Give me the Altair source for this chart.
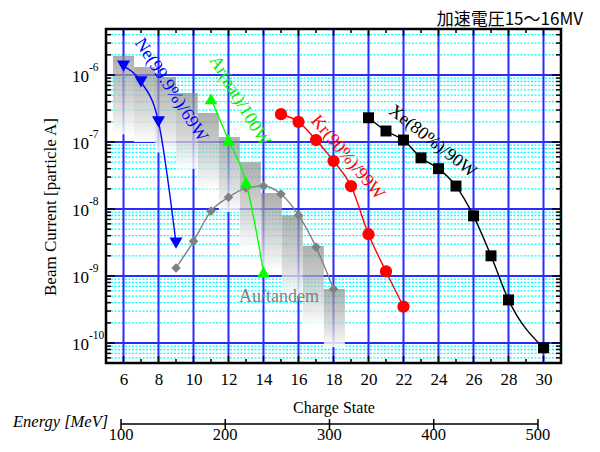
import altair as alt
import pandas as pd

# ---------------- data ----------------
ne_q = [6, 7, 8, 9]
ne_i = [1.36e-6, 7.9e-7, 2.0e-7, 3.1e-9]

ar_q = [11, 12, 13, 14]
ar_i = [4.4e-7, 1.07e-7, 2.5e-8, 1.15e-9]

kr_q = [15, 16, 17, 18, 19, 20, 21, 22]
kr_i = [2.6e-7, 2.0e-7, 1.07e-7, 5.2e-8, 2.2e-8, 4.2e-9, 1.17e-9, 3.5e-10]

xe_q = [20, 21, 22, 23, 24, 25, 26, 27, 28, 30]
xe_i = [2.3e-7, 1.46e-7, 1.07e-7, 5.8e-8, 4.0e-8, 2.2e-8, 7.9e-9, 2.0e-9, 4.4e-10, 8.5e-11]

au_q = [9, 10, 11, 12, 13, 14, 15, 16, 17, 18]
au_i = [1.32e-9, 3.3e-9, 9.3e-9, 1.5e-8, 2.05e-8, 2.2e-8, 1.67e-8, 8.1e-9, 2.7e-9, 6.4e-10]

bar_left = [5.4, 6.6, 7.8, 9.0, 10.25, 11.45, 12.65, 13.85, 15.05, 16.25, 17.45]
bar_right = [6.6, 7.8, 9.0, 10.25, 11.45, 12.65, 13.85, 15.05, 16.25, 17.45, 18.65]
bar_top = [1.92e-6, 1.32e-6, 9.3e-7, 5.4e-7, 2.7e-7, 1.19e-7, 5.0e-8, 1.73e-8, 8.1e-9, 2.8e-9, 6.4e-10]
bar_bottom = [1.3e-7, 1.0e-7, 7.0e-8, 4.0e-8, 2.0e-8, 9.0e-9, 2.6e-9, 1.2e-9, 5.0e-10, 1.8e-10, 8.7e-11]

x_tick_labels = list(range(6, 31, 2))
y_exponents = [-10, -9, -8, -7, -6]
energy_ticks = [100, 200, 300, 400, 500]

labels_text = ["Ne(99.9%)/69W", "Ar(nat)/100W", "Kr(90%)/99W", "Xe(80%)/90W", "Au/tandem"]
labels_q = [8.71, 12.63, 18.8, 23.66, 14.89]
labels_i = [5.97e-7, 4.09e-7, 5.87e-8, 1.02e-7, 4.86e-10]
labels_angle = [57, 59, 50, 38, 0]
labels_color = ["#0000ff", "#00ee00", "#ff0000", "#000000", "#808080"]

title_text = "加速電圧15〜16MV"

# ---------------- scales / helpers ----------------
W, H = 455, 334
Y_MIN, Y_MAX = 5.03e-11, 4.86e-6
serif = "Liberation Serif"
BLUE = "#2b2bff"

xs = alt.Scale(domain=[5, 31], nice=False, zero=False)
ys = alt.Scale(type="log", domain=[Y_MIN, Y_MAX], nice=False)
xaxis = alt.Axis(values=x_tick_labels, grid=False, ticks=False, domain=False,
                 labelFont=serif, labelFontSize=17, labelColor="black", labelPadding=8,
                 labelFlush=False, title="Charge State", titleFont=serif, titleFontSize=16,
                 titleFontWeight="normal", titleColor="black", titlePadding=12)


def X(f):
    return alt.X(f, type="quantitative", scale=xs, axis=xaxis)


def Y(f):
    return alt.Y(f, type="quantitative", scale=ys, axis=None)


decades = [10.0 ** e for e in y_exponents]
minor_vals = [m * 10.0 ** e for e in range(-11, -5) for m in range(2, 10)
              if Y_MIN <= m * 10.0 ** e <= Y_MAX]
odd_q = list(range(7, 30, 2))

# ---------------- grid ----------------
cyan = alt.Chart(pd.DataFrame({"v": minor_vals})).mark_rule(
    color="#00ffff", strokeWidth=1.3, strokeDash=[2, 1.5]).encode(y=Y("v"))
blue_h = alt.Chart(pd.DataFrame({"v": decades})).mark_rule(
    color=BLUE, strokeWidth=2).encode(y=Y("v"))
blue_v = alt.Chart(pd.DataFrame({"q": x_tick_labels})).mark_rule(
    color=BLUE, strokeWidth=2).encode(x=X("q"))

# ---------------- inward ticks ----------------
def xticks(vals, length):
    d = pd.DataFrame({"q": vals})
    b = alt.Chart(d).mark_rule(color="black", strokeWidth=1.5).encode(
        x=X("q"), y=alt.value(H), y2=alt.value(H - length))
    t = alt.Chart(d).mark_rule(color="black", strokeWidth=1.5).encode(
        x=X("q"), y=alt.value(0), y2=alt.value(length))
    return [b, t]


def yticks(vals, length):
    d = pd.DataFrame({"v": vals})
    l = alt.Chart(d).mark_rule(color="black", strokeWidth=1.5).encode(
        y=Y("v"), x=alt.value(0), x2=alt.value(length))
    r = alt.Chart(d).mark_rule(color="black", strokeWidth=1.5).encode(
        y=Y("v"), x=alt.value(W), x2=alt.value(W - length))
    return [l, r]


ticks = xticks(x_tick_labels, 7) + xticks(odd_q, 4) + yticks(decades, 9) + yticks(minor_vals, 5)

# ---------------- gradient bars ----------------
grad = alt.LinearGradient(
    gradient="linear", x1=0, x2=0, y1=0, y2=1,
    stops=[alt.GradientStop(offset=0, color="rgba(140,140,140,0.7)"),
           alt.GradientStop(offset=0.45, color="rgba(185,185,185,0.7)"),
           alt.GradientStop(offset=1, color="rgba(255,255,255,0.85)")])
bars = alt.Chart(pd.DataFrame({"l": bar_left, "r": bar_right, "t": bar_top, "b": bar_bottom})).mark_rect(
    fill=grad, strokeWidth=0).encode(x=X("l"), x2=alt.X2("r"), y=Y("t"), y2=alt.Y2("b"))

# ---------------- series ----------------
def series(q, i, color, shape, size):
    d = pd.DataFrame({"q": q, "i": i})
    line = alt.Chart(d).mark_line(color=color, strokeWidth=1.4, interpolate="monotone").encode(
        x=X("q"), y=Y("i"))
    pts = alt.Chart(d).mark_point(shape=shape, filled=True, color=color, size=size, opacity=1).encode(
        x=X("q"), y=Y("i"))
    return [line, pts]


ser = (series(au_q, au_i, "#808080", "diamond", 90)
       + series(ne_q, ne_i, "#0000ff", "triangle-down", 170)
       + series(ar_q, ar_i, "#00ff00", "triangle-up", 160)
       + series(kr_q, kr_i, "#ff0000", "circle", 150)
       + series(xe_q, xe_i, "#000000", "square", 120))

# ---------------- annotations ----------------
lab_df = pd.DataFrame({"t": labels_text, "q": labels_q, "i": labels_i})
ann = []
for k in range(len(labels_text)):
    ann.append(alt.Chart(lab_df.iloc[[k]]).mark_text(
        font=serif, fontSize=18, angle=labels_angle[k], color=labels_color[k],
        align="center", baseline="middle").encode(x=X("q"), y=Y("i"), text="t:N"))

ylab_df = pd.DataFrame({"v": decades, "sup": [str(e) for e in y_exponents]})
ylab_base = alt.Chart(ylab_df).mark_text(font=serif, fontSize=17, align="right", baseline="middle",
                                          dy=2, color="black").encode(
    x=alt.value(-17), y=Y("v"), text=alt.value("10"))
ylab_sup = alt.Chart(ylab_df).mark_text(font=serif, fontSize=11.5, align="left", baseline="middle",
                                         dy=-7, color="black").encode(
    x=alt.value(-17), y=Y("v"), text="sup:N")

ytitle = alt.Chart(pd.DataFrame({"t": ["Beam Current  [particle A]"]})).mark_text(
    font=serif, fontSize=17, angle=270, align="center", baseline="middle", color="black").encode(
    x=alt.value(-55), y=alt.value(178), text="t:N")

title = alt.Chart(pd.DataFrame({"t": [title_text]})).mark_text(
    font="Noto Sans CJK JP", fontSize=17, align="right", baseline="middle", color="black").encode(
    x=alt.value(477), y=alt.value(-9), text="t:N")

main = alt.layer(cyan, blue_h, blue_v, bars, *ticks, *ser, *ann,
                 ylab_base, ylab_sup, ytitle, title)

# ---------------- energy axis ----------------
es = alt.Scale(domain=[85.6, 522.1], nice=False, zero=False)
edf = pd.DataFrame({"E": energy_ticks})
e_ticks = alt.Chart(edf).mark_rule(color="black", strokeWidth=1.5).encode(
    x=alt.X("E:Q", scale=es, axis=None), y=alt.value(390), y2=alt.value(401))
e_line = alt.Chart(pd.DataFrame({"a": [min(energy_ticks)], "b": [max(energy_ticks)]})).mark_rule(
    color="black", strokeWidth=1.5).encode(
    x=alt.X("a:Q", scale=es, axis=None), x2="b:Q", y=alt.value(395))
e_labels = alt.Chart(edf).mark_text(font=serif, fontSize=16.5, baseline="middle", color="black").encode(
    x=alt.X("E:Q", scale=es, axis=None), y=alt.value(406), text="E:N")
e_title = alt.Chart(pd.DataFrame({"t": ["Energy [MeV]"]})).mark_text(
    font=serif, fontStyle="italic", fontSize=16.5, align="left", baseline="middle", color="black").encode(
    x=alt.value(-93), y=alt.value(393), text="t:N")
energy = alt.layer(e_ticks, e_line, e_labels, e_title)

chart = alt.layer(main, energy).resolve_scale(x="independent").properties(
    width=W, height=H,
    autosize=alt.AutoSizeParams(type="none"),
    padding={"left": 98, "top": 21, "right": 31, "bottom": 81},
    background="white",
).configure_view(stroke="black", strokeWidth=2.5)

chart.save("out.html", embed_options={"renderer": "svg", "actions": False})
